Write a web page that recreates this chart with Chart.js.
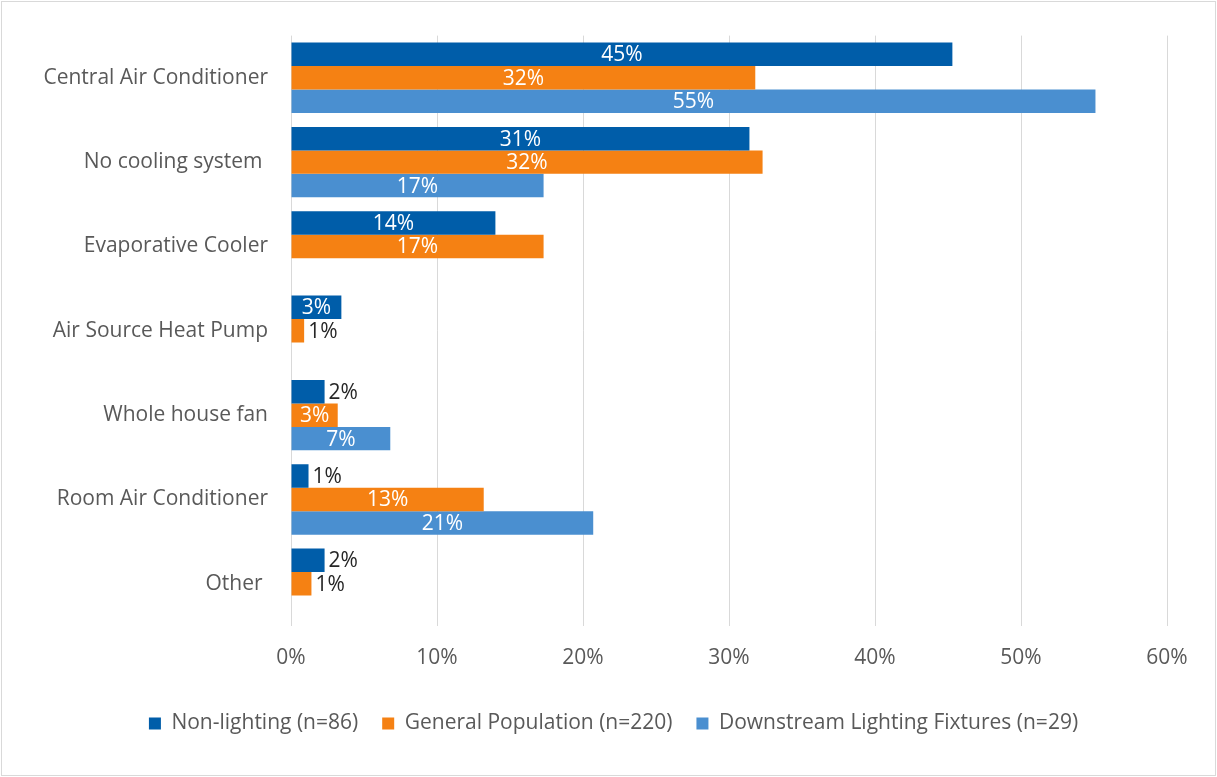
<!DOCTYPE html>
<html>
<head>
<meta charset="utf-8">
<script src="https://cdn.jsdelivr.net/npm/chart.js"></script>
<style>
  html, body { margin: 0; padding: 0; background: #ffffff; }
  #wrap { width: 1217px; height: 777px; position: relative; }
</style>
</head>
<body>
<div id="wrap"><canvas id="c" width="1217" height="777"></canvas></div>
<script>
const categories = [
  "Central Air Conditioner",
  "No cooling system ",
  "Evaporative Cooler",
  "Air Source Heat Pump",
  "Whole house fan",
  "Room Air Conditioner",
  "Other "
];
const seriesNames = [
  "Non-lighting (n=86)",
  "General Population (n=220)",
  "Downstream Lighting Fixtures (n=29)"
];
const nonLighting = [45.3, 31.4, 14.0, 3.45, 2.3, 1.2, 2.3];
const generalPopulation = [31.8, 32.3, 17.3, 0.9, 3.2, 13.2, 1.4];
const downstreamLighting = [55.1, 17.3, null, null, 6.8, 20.7, null];
const xTicks = [0, 10, 20, 30, 40, 50, 60];

const colors = ["#005DA9", "#F58113", "#4A8FD0"];
const FONT = "'Open Sans', Lato, sans-serif";
const FS = 21;
const TEXT_GRAY = "#595959";

const borderPlugin = {
  id: "frame",
  afterLayout(chart) {
    const lg = chart.legend;
    if (lg) {
      const shift = chart.width / 2 - (lg.left + lg.right) / 2 + 5;
      lg.left += shift;
      lg.right += shift;
    }
  },
  afterDraw(chart) {
    const ctx = chart.ctx;
    ctx.save();
    ctx.strokeStyle = "#d9d9d9";
    ctx.lineWidth = 1;
    ctx.strokeRect(1.5, 1.5, chart.width - 3, chart.height - 3);
    ctx.restore();
  }
};

const labelPlugin = {
  id: "barLabels",
  afterDatasetsDraw(chart) {
    const ctx = chart.ctx;
    ctx.save();
    ctx.font = FS + "px " + FONT;
    ctx.textBaseline = "middle";
    chart.data.datasets.forEach((ds, di) => {
      const meta = chart.getDatasetMeta(di);
      meta.data.forEach((bar, i) => {
        const v = ds.data[i];
        if (v === null || v === undefined) return;
        const txt = Math.round(v) + "%";
        const w = ctx.measureText(txt).width;
        const left = bar.base;
        const right = bar.x;
        const bw = right - left;
        if (bw >= w + 10) {
          ctx.fillStyle = "#ffffff";
          ctx.textAlign = "center";
          ctx.fillText(txt, (left + right) / 2, bar.y + 1);
        } else {
          ctx.fillStyle = "#262626";
          ctx.textAlign = "left";
          ctx.fillText(txt, right + 4, bar.y + 1);
        }
      });
    });
    ctx.restore();
  }
};

new Chart(document.getElementById("c"), {
  type: "bar",
  data: {
    labels: categories,
    datasets: [
      { label: seriesNames[0], data: nonLighting, backgroundColor: colors[0] },
      { label: seriesNames[1], data: generalPopulation, backgroundColor: colors[1] },
      { label: seriesNames[2], data: downstreamLighting, backgroundColor: colors[2] }
    ]
  },
  options: {
    indexAxis: "y",
    responsive: false,
    animation: false,
    devicePixelRatio: 1,
    layout: { padding: { left: 0, right: 50, top: 30, bottom: 33 } },
    datasets: { bar: { categoryPercentage: 0.835, barPercentage: 1.0, borderWidth: 0 } },
    scales: {
      x: {
        min: 0,
        max: 60,
        afterBuildTicks(scale) { scale.ticks = xTicks.map(v => ({ value: v })); },
        ticks: {
          callback: v => v + "%",
          color: TEXT_GRAY,
          font: { family: FONT, size: FS },
          padding: 19
        },
        grid: { color: "#d9d9d9", drawTicks: false, lineWidth: 1 },
        border: { display: false },
        afterFit(scale) { scale.height = 63; }
      },
      y: {
        ticks: {
          color: TEXT_GRAY,
          font: { family: FONT, size: FS },
          padding: 23
        },
        grid: { display: false, drawTicks: false },
        border: { display: false },
        afterFit(scale) { scale.width = 291; }
      }
    },
    plugins: {
      legend: {
        position: "bottom",
        labels: {
          color: TEXT_GRAY,
          font: { family: FONT, size: FS },
          boxWidth: 12,
          boxHeight: 12,
          padding: 24,
          useBorderRadius: false
        }
      },
      tooltip: { enabled: false }
    }
  },
  plugins: [borderPlugin, labelPlugin]
});
</script>
</body>
</html>
